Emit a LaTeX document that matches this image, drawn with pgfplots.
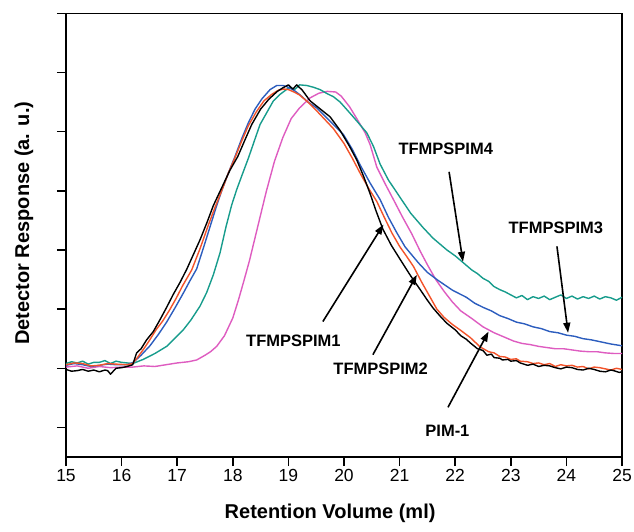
\documentclass[border=0pt]{standalone}
\usepackage{fontspec}
\setmainfont{Liberation Sans}
\usepackage{pgfplots}
\pgfplotsset{compat=1.18}
\usetikzlibrary{arrows.meta}
\definecolor{cblue}{HTML}{2C5DBE}
\definecolor{cteal}{HTML}{179C8C}
\definecolor{cpink}{HTML}{DE5CC0}
\definecolor{corange}{HTML}{F3532A}
\begin{document}
\begin{tikzpicture}
\useasboundingbox (-66pt,-74pt) rectangle (568pt,457pt);
\begin{axis}[
  at={(0,0)},anchor=south west,
  scale only axis,width=556pt,height=443.7pt,
  xmin=15,xmax=25,ymin=-1.5,ymax=6,
  xtick={15,...,25},ytick={-1,...,6},yticklabels={},
  tick pos=left,tick align=outside,
  major tick length=9pt,
  axis line style={line width=1.5pt},
  every tick/.style={line width=1.5pt,black},
  /pgf/number format/assume math mode=true,
  xticklabel style={font=\fontsize{17.5}{20}\selectfont},
  clip=false,
  every axis plot/.append style={line width=1.4pt,no marks,line join=round}]
% PIM-1
\addplot[cpink] coordinates {
(15.0,0.02)(15.2,0.04)(15.4,0.00)(15.6,0.03)(15.8,0.01)(16.0,0.02)(16.2,0.02)
(16.4,0.04)(16.6,0.03)(16.8,0.06)(17.0,0.09)(17.2,0.11)(17.35,0.14)(17.5,0.22)
(17.6,0.28)(17.71,0.37)(17.85,0.55)(18.0,0.85)(18.1,1.15)(18.2,1.48)(18.3,1.82)
(18.45,2.40)(18.6,2.98)(18.75,3.50)(18.9,3.90)(19.05,4.22)(19.2,4.40)(19.39,4.57)
(19.55,4.65)(19.7,4.68)(19.85,4.67)(19.95,4.60)(20.1,4.42)(20.23,4.22)(20.38,3.98)
(20.47,3.78)(20.59,3.40)(20.75,3.10)(20.89,2.85)(21.05,2.56)(21.22,2.27)(21.37,1.98)
(21.5,1.75)(21.65,1.50)(21.8,1.30)(21.95,1.12)(22.1,0.97)(22.3,0.84)(22.5,0.70)
(22.7,0.60)(22.9,0.52)(23.05,0.46)(23.2,0.42)(23.35,0.40)(23.5,0.37)(23.65,0.35)
(23.8,0.33)(23.95,0.33)(24.1,0.31)(24.25,0.29)(24.4,0.28)(24.55,0.28)(24.7,0.26)
(24.85,0.25)(25.0,0.25)};
% TFMPSPIM4
\addplot[cteal] coordinates {
(15.0,0.08)(15.1,0.11)(15.2,0.09)(15.3,0.12)(15.4,0.07)(15.5,0.10)(15.6,0.10)
(15.7,0.13)(15.8,0.08)(15.9,0.12)(16.0,0.10)(16.1,0.09)(16.2,0.08)
(16.39,0.15)(16.6,0.25)(16.81,0.37)(16.95,0.50)(17.11,0.65)(17.25,0.82)(17.41,1.05)
(17.53,1.28)(17.65,1.58)(17.77,1.95)(17.88,2.40)(17.98,2.76)(18.07,3.02)(18.18,3.30)
(18.28,3.55)(18.39,3.85)(18.49,4.12)(18.61,4.32)(18.73,4.52)(18.85,4.63)(18.95,4.70)
(19.03,4.76)(19.1,4.70)(19.2,4.79)(19.33,4.78)(19.45,4.75)(19.57,4.71)(19.7,4.64)
(19.81,4.59)(19.93,4.50)(20.11,4.31)(20.23,4.18)(20.41,3.98)(20.53,3.75)(20.65,3.45)
(20.8,3.18)(21.0,2.90)(21.2,2.62)(21.42,2.38)(21.6,2.20)(21.85,2.00)(22.0,1.90)
(22.15,1.78)(22.3,1.66)(22.4,1.60)(22.5,1.52)(22.6,1.47)(22.7,1.38)(22.8,1.33)
(22.9,1.29)(23.0,1.24)(23.1,1.19)(23.2,1.23)(23.3,1.16)(23.4,1.21)(23.5,1.18)
(23.6,1.22)(23.7,1.16)(23.8,1.20)(23.9,1.24)(24.0,1.18)(24.1,1.22)(24.2,1.17)
(24.3,1.21)(24.4,1.18)(24.5,1.22)(24.6,1.17)(24.7,1.21)(24.8,1.19)(24.9,1.15)(25.0,1.20)};
% TFMPSPIM3
\addplot[cblue] coordinates {
(15.0,0.05)(15.15,0.08)(15.3,0.06)(15.45,0.03)(15.6,0.05)(15.75,0.07)(15.9,0.06)
(16.1,0.06)(16.21,0.10)(16.35,0.22)
(16.51,0.38)(16.66,0.57)(16.81,0.78)(16.96,1.02)(17.11,1.27)(17.23,1.48)(17.35,1.68)
(17.48,2.06)(17.6,2.42)(17.7,2.72)(17.8,3.00)(17.92,3.30)(18.04,3.58)(18.16,3.88)
(18.28,4.15)(18.4,4.38)(18.52,4.55)(18.67,4.71)(18.79,4.78)(18.9,4.78)(18.97,4.76)
(19.1,4.70)(19.21,4.62)(19.35,4.50)(19.51,4.40)(19.65,4.27)(19.81,4.12)(19.99,3.95)
(20.15,3.70)(20.3,3.42)(20.47,3.13)(20.65,2.85)(20.8,2.55)(20.95,2.29)(21.1,2.05)
(21.34,1.78)(21.5,1.62)(21.7,1.48)(21.95,1.32)(22.2,1.20)(22.35,1.10)(22.5,1.03)
(22.65,0.97)(22.8,0.89)(22.95,0.84)(23.1,0.78)(23.25,0.75)(23.4,0.70)(23.55,0.67)
(23.7,0.62)(23.85,0.60)(24.0,0.56)(24.15,0.54)(24.3,0.50)(24.45,0.48)(24.6,0.45)
(24.8,0.41)(25.0,0.38)};
% TFMPSPIM2
\addplot[corange] coordinates {
(15.0,0.06)(15.15,0.09)(15.3,0.08)(15.45,0.04)(15.6,0.05)(15.75,0.08)(15.9,0.07)
(16.1,0.06)(16.2,0.08)(16.3,0.20)
(16.4,0.33)(16.5,0.47)(16.62,0.65)(16.74,0.80)(16.86,0.98)(16.98,1.18)(17.1,1.40)
(17.26,1.66)(17.41,2.02)(17.56,2.42)(17.68,2.72)(17.8,3.00)(17.92,3.30)(18.04,3.56)
(18.16,3.84)(18.28,4.10)(18.42,4.33)(18.56,4.52)(18.7,4.63)(18.82,4.70)(18.92,4.72)
(19.0,4.71)(19.1,4.67)(19.2,4.62)(19.35,4.50)(19.5,4.36)(19.65,4.21)(19.81,4.05)
(20.0,3.80)(20.15,3.55)(20.3,3.28)(20.45,3.03)(20.59,2.82)(20.72,2.56)(20.86,2.29)
(21.0,2.06)(21.12,1.90)(21.25,1.72)(21.4,1.45)(21.55,1.20)(21.67,1.00)(21.8,0.86)
(21.95,0.74)(22.1,0.64)(22.27,0.52)(22.45,0.36)(22.6,0.28)(22.7,0.26)(22.8,0.20)
(22.9,0.19)(23.0,0.15)(23.1,0.16)(23.17,0.12)(23.3,0.11)(23.4,0.08)(23.5,0.09)
(23.6,0.06)(23.7,0.08)(23.8,0.03)(23.9,0.06)(24.0,0.04)(24.1,0.05)(24.2,0.02)
(24.3,0.03)(24.4,-0.01)(24.5,0.02)(24.6,0.01)(24.7,-0.01)(24.8,-0.03)(24.9,0.00)(25.0,-0.02)};
% TFMPSPIM1
\addplot[black] coordinates {
(15.0,-0.02)(15.1,-0.05)(15.2,-0.04)(15.3,-0.02)(15.4,-0.05)(15.5,-0.03)(15.6,-0.06)
(15.7,-0.03)(15.75,-0.04)(15.8,-0.10)(15.9,0.00)
(16.0,0.01)(16.1,0.03)(16.2,0.06)(16.27,0.26)(16.35,0.33)(16.45,0.48)(16.57,0.62)
(16.69,0.82)(16.81,1.03)(16.93,1.25)(17.05,1.45)(17.17,1.67)(17.29,1.92)(17.41,2.17)
(17.53,2.45)(17.65,2.75)(17.8,3.05)(17.95,3.35)(18.09,3.58)(18.2,3.82)(18.34,4.12)
(18.5,4.38)(18.65,4.55)(18.8,4.68)(18.9,4.74)(19.0,4.79)(19.08,4.72)(19.15,4.79)
(19.25,4.70)(19.39,4.52)(19.55,4.40)(19.75,4.25)(19.93,4.02)(20.1,3.75)(20.23,3.52)
(20.35,3.25)(20.47,2.95)(20.58,2.65)(20.7,2.35)(20.85,2.08)(21.01,1.84)(21.2,1.56)
(21.37,1.33)(21.5,1.15)(21.6,1.02)(21.73,0.88)(21.85,0.76)(22.0,0.65)(22.1,0.55)
(22.2,0.49)(22.27,0.43)(22.4,0.33)(22.5,0.30)(22.57,0.22)(22.65,0.24)(22.7,0.18)
(22.8,0.17)(22.85,0.14)(22.95,0.15)(23.0,0.12)(23.1,0.13)(23.17,0.09)(23.3,0.05)
(23.4,0.07)(23.5,0.03)(23.6,0.05)(23.7,0.04)(23.8,0.01)(23.9,-0.01)(24.0,0.02)
(24.1,0.01)(24.2,-0.02)(24.3,-0.03)(24.4,0.00)(24.5,-0.02)(24.6,-0.05)(24.7,-0.06)
(24.8,-0.03)(24.85,-0.04)(24.95,-0.07)(25.0,-0.06)};
% annotations
\begin{scope}[line width=1.6pt,-{Triangle[length=10pt,width=7pt]}]
\draw (axis cs:19.62,0.79) -- (axis cs:20.71,2.43);
\draw (axis cs:20.52,0.23) -- (axis cs:21.31,1.58);
\draw (axis cs:21.87,-0.66) -- (axis cs:22.60,0.62);
\draw (axis cs:21.89,3.32) -- (axis cs:22.14,1.80);
\draw (axis cs:23.83,2.06) -- (axis cs:24.03,0.60);
\end{scope}
\begin{scope}[every node/.style={font=\fontsize{16.5}{19}\selectfont\bfseries}]
\node at (axis cs:19.09,0.46) {TFMPSPIM1};
\node at (axis cs:20.66,-0.01) {TFMPSPIM2};
\node at (axis cs:21.86,-1.06) {PIM-1};
\node at (axis cs:21.83,3.71) {TFMPSPIM4};
\node at (axis cs:23.81,2.38) {TFMPSPIM3};
\end{scope}
\node[font=\fontsize{20}{24}\selectfont\bfseries,rotate=90]
  at ([xshift=-42pt]rel axis cs:0,0.527) {Detector Response (a. u.)};
\node[font=\fontsize{20}{24}\selectfont\bfseries]
  at ([yshift=-56pt]rel axis cs:0.475,0) {Retention Volume (ml)};
\end{axis}
\end{tikzpicture}
\end{document}
